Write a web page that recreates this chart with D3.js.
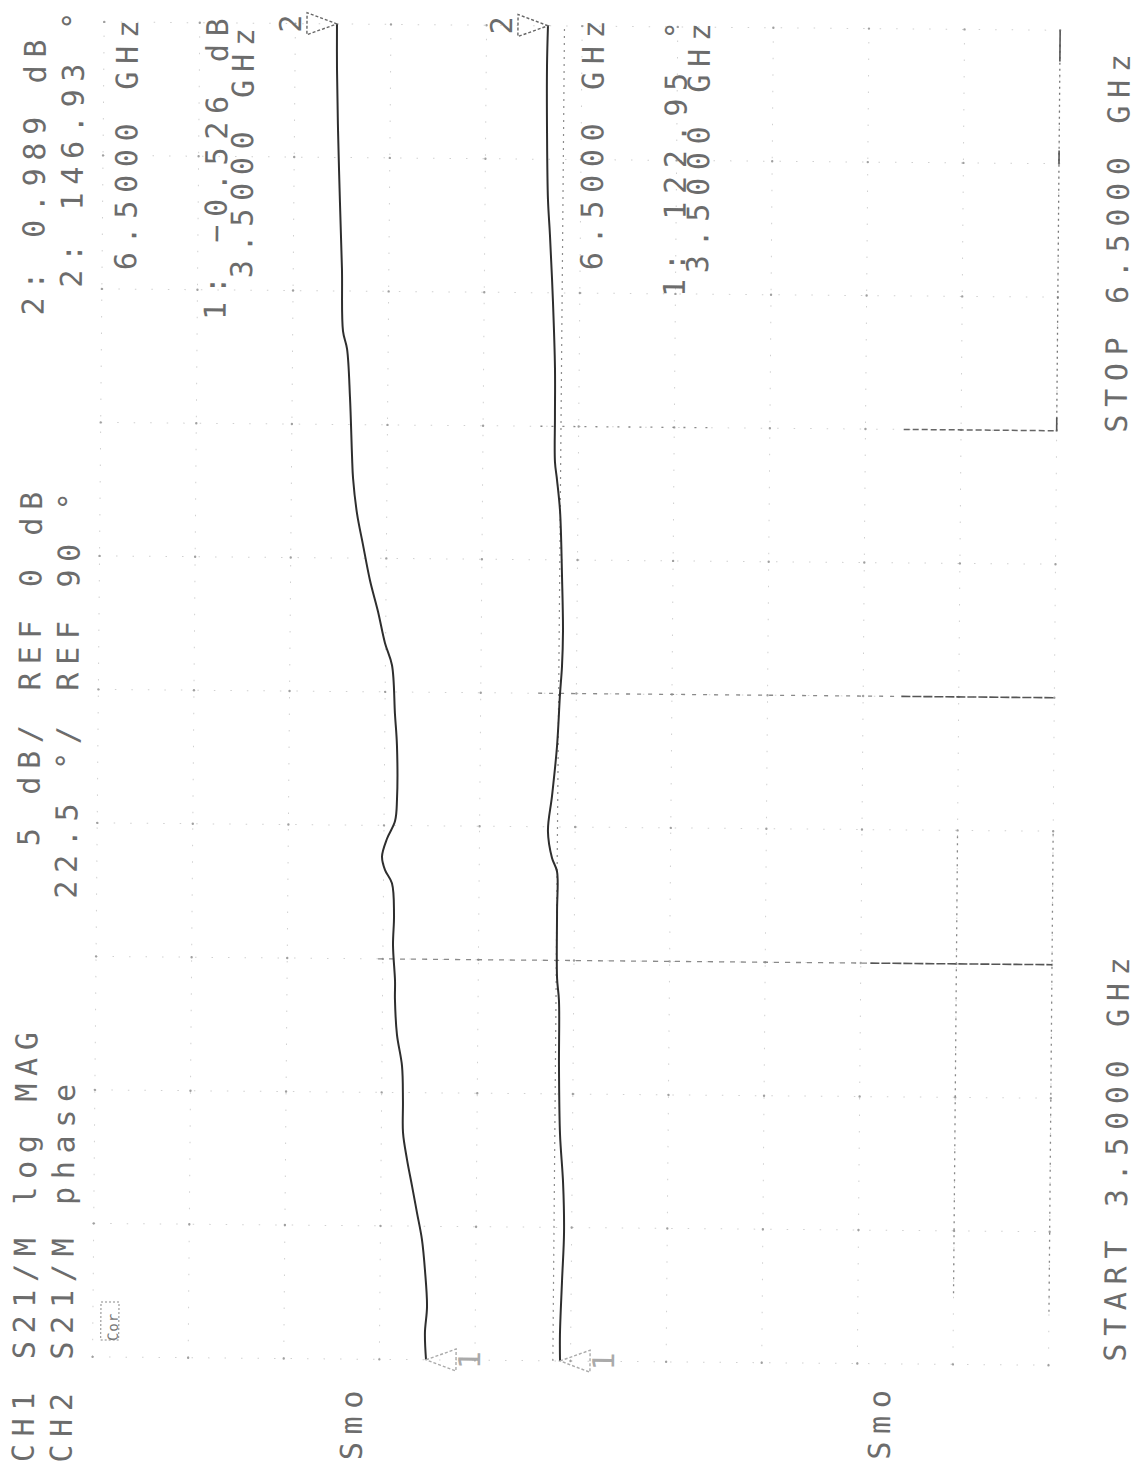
<!DOCTYPE html>
<html>
<head>
<meta charset="utf-8">
<script src="https://cdn.jsdelivr.net/npm/d3@7"></script>
<style>
  body { margin: 0; background: #fff; }
  svg { display: block; }
</style>
</head>
<body>
<div id="chart"></div>
<script>
// Sweep
const startGHz = 3.5;
const stopGHz = 6.5;

// Channel annotations
const ch1Title = "CH1 S21/M log MAG";
const ch2Title = "CH2 S21/M phase";
const ch1ScaleText = "5 dB/";
const ch2ScaleText = "22.5 °/";
const ch1RefText = "REF 0 dB";
const ch2RefText = "REF 90 °";
const smoothText = "Smo";

// Markers (1 = start, 2 = stop)
const markerFreqs = [3.5, 6.5];
const ch1MarkerDb = [-0.526, 0.989];
const ch2MarkerDeg = [122.95, 146.93];

// CH1: S21 log magnitude (dB)
const ch1Freq = [3.50, 3.56, 3.62, 3.70, 3.77, 3.83, 3.89, 3.95, 4.01, 4.08,
                 4.16, 4.23, 4.31, 4.35, 4.43, 4.50, 4.57, 4.60, 4.63, 4.67,
                 4.71, 4.76, 4.88, 4.95, 5.06, 5.11, 5.18, 5.25, 5.33, 5.40,
                 5.48, 5.53, 5.66, 5.77, 5.81, 5.95, 6.10, 6.26, 6.40, 6.50];
const ch1Db = [-0.526, -0.506, -0.534, -0.499, -0.449, -0.371, -0.293, -0.213, -0.150, -0.145,
               -0.126, -0.046, -0.011, -0.010, 0.025, 0.014, 0.049, 0.156, 0.202, 0.130,
               0.011, -0.016, -0.008, 0.026, 0.077, 0.186, 0.294, 0.419, 0.529, 0.623,
               0.688, 0.706, 0.744, 0.795, 0.858, 0.882, 0.921, 0.959, 0.983, 0.989];

// CH2: S21 phase (deg)
const ch2Freq = [3.50, 3.56, 3.68, 3.79, 3.90, 4.01, 4.16, 4.31, 4.36, 4.51,
                 4.60, 4.63, 4.69, 4.77, 4.88, 5.00, 5.06, 5.14, 5.26, 5.41,
                 5.48, 5.52, 5.62, 5.73, 5.88, 6.03, 6.11, 6.26, 6.41, 6.50];
const ch2Deg = [122.95, 123.25, 121.63, 120.02, 121.43, 124.97, 126.59, 127.20, 129.32, 129.93,
                130.34, 135.50, 139.85, 136.00, 131.45, 128.82, 127.10, 126.39, 127.81, 130.44,
                133.78, 136.00, 136.41, 136.81, 139.44, 143.08, 145.41, 146.93, 147.54, 146.93];

const W = 1139, H = 1466;

const svg = d3.select("#chart")
  .append("svg")
  .attr("width", W)
  .attr("height", H);

// the printout is turned on its side and scanned a little askew
const page = svg.append("g")
  .attr("transform", "rotate(0.5 570 733)");

// graticule: 10 divisions across (amplitude), 10 along (frequency)
const xDiv = d3.scaleLinear().domain([0, 10]).range([98, 1054]);
const yF = d3.scaleLinear().domain([startGHz, stopGHz]).range([1361, 26]);
const x1 = d3.scaleLinear().domain(ch1MarkerDb).range([431.5, 330.8]);
const x2 = d3.scaleLinear().domain(ch2MarkerDeg).range([565.5, 541.8]);

const divs = d3.range(0, 11);
const freqLines = divs.map(k => startGHz + k * (stopGHz - startGHz) / 10);

const grid = page.append("g");

grid.selectAll(".vgrid")
  .data(divs)
  .enter()
  .append("line")
  .attr("x1", d => xDiv(d)).attr("x2", d => xDiv(d))
  .attr("y1", yF(startGHz)).attr("y2", yF(stopGHz))
  .attr("stroke", "#d0d0d0")
  .attr("stroke-width", 1)
  .attr("stroke-dasharray", "1.5 15");

grid.selectAll(".hgrid")
  .data(freqLines)
  .enter()
  .append("line")
  .attr("x1", xDiv(0)).attr("x2", xDiv(10))
  .attr("y1", d => yF(d)).attr("y2", d => yF(d))
  .attr("stroke", "#d0d0d0")
  .attr("stroke-width", 1)
  .attr("stroke-dasharray", "1.5 15");

// intersections print as dots
const crossings = divs.flatMap(i => freqLines.map(f => ({ i, f })));
grid.selectAll(".cross")
  .data(crossings)
  .enter()
  .append("circle")
  .attr("cx", d => xDiv(d.i))
  .attr("cy", d => yF(d.f))
  .attr("r", 1.2)
  .attr("fill", "#a0a0a0");

// parts of the graticule that survived the copy
function seg(xa, ya, xb, yb, dash, color, width) {
  grid.append("line")
    .attr("x1", xa).attr("y1", ya).attr("x2", xb).attr("y2", yb)
    .attr("stroke", color)
    .attr("stroke-width", width)
    .attr("stroke-dasharray", dash);
}
seg(xDiv(2.95), yF(4.4), xDiv(8.1), yF(4.4), "5 6", "#8a8a8a", 1.3);
seg(xDiv(8.1), yF(4.4), xDiv(10), yF(4.4), "9 2", "#555", 1.6);
seg(xDiv(4.6), yF(5.0), xDiv(8.4), yF(5.0), "4 7", "#8a8a8a", 1.3);
seg(xDiv(8.4), yF(5.0), xDiv(10), yF(5.0), "9 2", "#555", 1.6);
seg(xDiv(4.6), yF(5.6), xDiv(6.4), yF(5.6), "2 9", "#8a8a8a", 1.3);
seg(xDiv(8.4), yF(5.6), xDiv(10), yF(5.6), "6 3", "#666", 1.5);
seg(xDiv(9), yF(3.66), xDiv(9), yF(4.69), "2 5", "#888", 1.3);
seg(xDiv(10), yF(3.62), xDiv(10), yF(4.7), "2 5", "#888", 1.3);
seg(xDiv(10), yF(5.6), xDiv(10), yF(6.47), "2 4", "#777", 1.3);
seg(xDiv(10), yF(6.43), xDiv(10), yF(6.5), null, "#555", 1.6);
seg(xDiv(10), yF(5.6), xDiv(10), yF(5.63), null, "#555", 1.6);
seg(xDiv(10), yF(6.2), xDiv(10), yF(6.23), null, "#555", 1.6);

// dotted reference line beside the phase trace
seg(xDiv(4.815), yF(startGHz), xDiv(4.815), yF(stopGHz), "2 5", "#8c8c8c", 1.2);

// traces
const line1 = d3.line()
  .x(d => x1(d.v))
  .y(d => yF(d.f))
  .curve(d3.curveCatmullRom.alpha(0.5));
const line2 = d3.line()
  .x(d => x2(d.v))
  .y(d => yF(d.f))
  .curve(d3.curveCatmullRom.alpha(0.5));

page.append("path")
  .datum(ch1Freq.map((f, i) => ({ f, v: ch1Db[i] })))
  .attr("fill", "none")
  .attr("stroke", "#2e2e2e")
  .attr("stroke-width", 2)
  .attr("d", line1);

page.append("path")
  .datum(ch2Freq.map((f, i) => ({ f, v: ch2Deg[i] })))
  .attr("fill", "none")
  .attr("stroke", "#2e2e2e")
  .attr("stroke-width", 2)
  .attr("d", line2);

// text written along the sweep (reads bottom to top)
const textColor = "#6c6c6c";
function label(str, baseX, startY, size, color) {
  page.append("text")
    .attr("transform", `translate(${baseX},${startY}) rotate(-90)`)
    .style("font-family", "'DejaVu Sans Mono', 'Liberation Mono', monospace")
    .style("font-size", (size || 30) + "px")
    .style("letter-spacing", size ? "1px" : "7.7px")
    .style("fill", color || textColor)
    .text(str);
}

function markerNames(i) { return String(i + 1); }

const fGHz = d => d3.format(".4f")(d) + " GHz";
const fDb = d => d3.format(".3f")(d) + " dB";
const fDeg = d => d3.format(".2f")(d) + " °";

// header rows
label(ch1Title, 40, 1467);
label(ch1ScaleText, 40, 851);
label(ch1RefText, 40, 695);
label(`${markerNames(1)}: ${fDb(ch1MarkerDb[1])}`, 40, 320);

label(ch2Title, 78, 1467);
label(ch2ScaleText, 78, 903);
label(ch2RefText, 78, 695);
label(`${markerNames(1)}: ${fDeg(ch2MarkerDeg[1])}`, 78, 292);

// CH1 marker readouts
label(fGHz(markerFreqs[1]), 132, 274);
label(`${markerNames(0)}: ${fDb(ch1MarkerDb[0])}`, 222, 323);
label(fGHz(markerFreqs[0]), 248, 281);

// CH2 marker readouts
label(fGHz(markerFreqs[1]), 598, 270);
label(`${markerNames(0)}: ${fDeg(ch2MarkerDeg[0])}`, 681, 296);
label(fGHz(markerFreqs[0]), 704, 272);

// smoothing flags and status box
label(smoothText, 368, 1462);
label(smoothText, 896, 1457);
label("Cor", 123, 1345, 14, "#777");
page.append("rect")
  .attr("x", 106).attr("y", 1306).attr("width", 18).attr("height", 38)
  .attr("fill", "none").attr("stroke", "#888").attr("stroke-width", 1)
  .attr("stroke-dasharray", "2 2");

// sweep limits
label(`START ${fGHz(startGHz)}`, 1131, 1357);
label(`STOP ${fGHz(stopGHz)}`, 1124, 428);

// marker symbols
function markerSymbol(ax, ay, name, side, faint) {
  const dir = side === "left" ? -1 : 1;
  const bx = ax + dir * 30;
  page.append("path")
    .attr("d", `M${ax},${ay} L${bx},${ay - 11} L${bx},${ay + 11} Z`)
    .attr("fill", "none")
    .attr("stroke", faint ? "#aaa" : "#666")
    .attr("stroke-width", 1.4)
    .attr("stroke-dasharray", "3 2");
  const lx = side === "left" ? bx - 6 : bx + 24;
  label(name, lx, ay + 9, null, faint ? "#aaa" : textColor);
}
markerSymbol(x1(ch1MarkerDb[1]), yF(markerFreqs[1]), markerNames(1), "left");
markerSymbol(x2(ch2MarkerDeg[1]), yF(markerFreqs[1]), markerNames(1), "left");
markerSymbol(x1(ch1MarkerDb[0]), yF(markerFreqs[0]), markerNames(0), "right", true);
markerSymbol(x2(ch2MarkerDeg[0]), yF(markerFreqs[0]), markerNames(0), "right", true);
</script>
</body>
</html>
